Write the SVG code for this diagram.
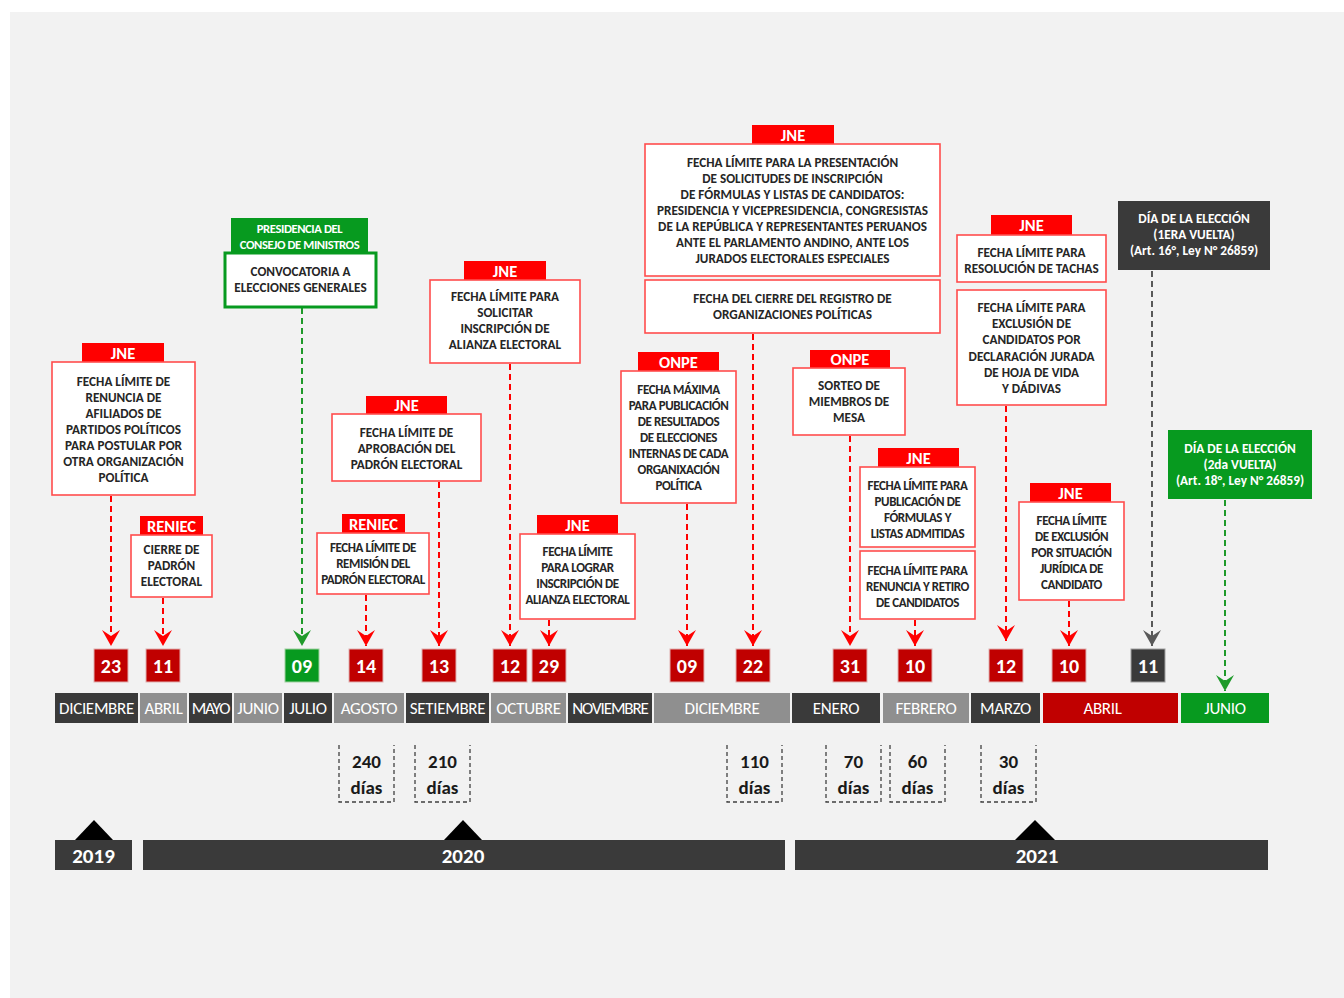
<svg xmlns="http://www.w3.org/2000/svg" width="1344" height="998" viewBox="0 0 1344 998">
<defs>
<style>
.bg{fill:#f2f2f2}
.hdr{fill:#ff0000}
.box{fill:#ffffff;stroke:#ff4d4d;stroke-width:1.6}
.gbox{fill:#ffffff;stroke:#079a1f;stroke-width:3}
.t{font-family:Carlito,Lato,"Liberation Sans",sans-serif;font-weight:bold;font-size:13.2px;fill:#262626;text-anchor:middle}
.ts{font-size:13px;letter-spacing:-0.4px}
.ht{font-family:Carlito,Lato,"Liberation Sans",sans-serif;font-weight:bold;font-size:16.5px;fill:#ffffff;text-anchor:middle}
.wt{font-family:Carlito,Lato,"Liberation Sans",sans-serif;font-weight:bold;font-size:13.3px;fill:#ffffff;text-anchor:middle}
.wts{font-size:12.6px;letter-spacing:-0.4px}
.date{fill:#c00000;stroke:#e0b0b0;stroke-width:1}
.dt{font-family:Carlito,Lato,"Liberation Sans",sans-serif;font-weight:bold;font-size:20px;fill:#ffffff;text-anchor:middle}
.mon{font-family:Carlito,Lato,"Liberation Sans",sans-serif;font-size:17px;fill:#ffffff;text-anchor:middle;letter-spacing:-0.3px}
.cond{letter-spacing:-1.1px}
.dk{fill:#3a3a3a}
.gr{fill:#8f8f8f}
.rd{fill:#c00000}
.gn{fill:#079a1f}
.cr{stroke:#ff0000;stroke-width:2;stroke-dasharray:6 4;fill:none}
.cg{stroke:#1f9a2a;stroke-width:2;stroke-dasharray:6 4;fill:none}
.ck{stroke:#595959;stroke-width:2;stroke-dasharray:6 4;fill:none}
.dd{stroke:#404040;stroke-width:1.3;stroke-dasharray:4 3;fill:none}
.days{font-family:Carlito,Lato,"Liberation Sans",sans-serif;font-weight:bold;font-size:19px;fill:#1a1a1a;text-anchor:middle}
.yr{font-family:Carlito,Lato,"Liberation Sans",sans-serif;font-weight:bold;font-size:21px;fill:#ffffff;text-anchor:middle}
</style>
<marker id="ar" viewBox="-17 -10 18 20" markerWidth="18" markerHeight="20" refX="0" refY="0" orient="auto" markerUnits="userSpaceOnUse"><path d="M0 0 L-16 -9 L-10 0 L-16 9 Z" fill="#ff0000"/></marker>
<marker id="ag" viewBox="-17 -10 18 20" markerWidth="18" markerHeight="20" refX="0" refY="0" orient="auto" markerUnits="userSpaceOnUse"><path d="M0 0 L-16 -9 L-10 0 L-16 9 Z" fill="#1f9a2a"/></marker>
<marker id="ak" viewBox="-17 -10 18 20" markerWidth="18" markerHeight="20" refX="0" refY="0" orient="auto" markerUnits="userSpaceOnUse"><path d="M0 0 L-16 -9 L-10 0 L-16 9 Z" fill="#595959"/></marker>
</defs>
<rect class="bg" x="10" y="12" width="1334" height="986"/>

<g id="connectors">
<line class="cr" x1="111" y1="496" x2="111" y2="646" marker-end="url(#ar)"/>
<line class="cr" x1="163" y1="598" x2="163" y2="646" marker-end="url(#ar)"/>
<line class="cg" x1="302" y1="308" x2="302" y2="646" marker-end="url(#ag)"/>
<line class="cr" x1="366" y1="595" x2="366" y2="646" marker-end="url(#ar)"/>
<line class="cr" x1="439" y1="482" x2="439" y2="646" marker-end="url(#ar)"/>
<line class="cr" x1="510" y1="364" x2="510" y2="646" marker-end="url(#ar)"/>
<line class="cr" x1="549" y1="620" x2="549" y2="646" marker-end="url(#ar)"/>
<line class="cr" x1="687" y1="504" x2="687" y2="646" marker-end="url(#ar)"/>
<line class="cr" x1="753" y1="334" x2="753" y2="646" marker-end="url(#ar)"/>
<line class="cr" x1="850" y1="436" x2="850" y2="646" marker-end="url(#ar)"/>
<line class="cr" x1="915" y1="620" x2="915" y2="646" marker-end="url(#ar)"/>
<line class="cr" x1="1006" y1="406" x2="1006" y2="641" marker-end="url(#ar)"/>
<line class="cr" x1="1069" y1="601" x2="1069" y2="646" marker-end="url(#ar)"/>
<line class="ck" x1="1152" y1="271" x2="1152" y2="646" marker-end="url(#ak)"/>
<line class="cg" x1="1225" y1="500" x2="1225" y2="691" marker-end="url(#ag)"/>
</g>

<g id="n-jne-renuncia">
<rect class="hdr" x="82" y="343" width="82" height="19"/>
<text class="ht" x="123" y="359">JNE</text>
<rect class="box" x="52" y="362" width="143" height="133"/>
<text class="t" x="123.5" y="386">FECHA LÍMITE DE</text>
<text class="t" x="123.5" y="402">RENUNCIA DE</text>
<text class="t" x="123.5" y="418">AFILIADOS DE</text>
<text class="t" x="123.5" y="434">PARTIDOS POLÍTICOS</text>
<text class="t" x="123.5" y="450">PARA POSTULAR POR</text>
<text class="t" x="123.5" y="466">OTRA ORGANIZACIÓN</text>
<text class="t" x="123.5" y="482">POLÍTICA</text>
</g>

<g id="n-reniec-cierre">
<rect class="hdr" x="140" y="516" width="63" height="19"/>
<text class="ht" x="171.5" y="532">RENIEC</text>
<rect class="box" x="131" y="535" width="81" height="62"/>
<text class="t" x="171.5" y="554">CIERRE DE</text>
<text class="t" x="171.5" y="570">PADRÓN</text>
<text class="t" x="171.5" y="586">ELECTORAL</text>
</g>

<g id="n-pcm">
<rect class="gn" x="231" y="218" width="137" height="34"/>
<text class="wt wts" x="299.5" y="233">PRESIDENCIA DEL</text>
<text class="wt wts" x="299.5" y="249">CONSEJO DE MINISTROS</text>
<rect class="gbox" x="225" y="253" width="151" height="54"/>
<text class="t" x="300.5" y="276">CONVOCATORIA A</text>
<text class="t" x="300.5" y="292">ELECCIONES GENERALES</text>
</g>

<g id="n-jne-aprobacion">
<rect class="hdr" x="366" y="396" width="81" height="18"/>
<text class="ht" x="406.5" y="411">JNE</text>
<rect class="box" x="332" y="414" width="149" height="67"/>
<text class="t" x="406.5" y="437">FECHA LÍMITE DE</text>
<text class="t" x="406.5" y="453">APROBACIÓN DEL</text>
<text class="t" x="406.5" y="469">PADRÓN ELECTORAL</text>
</g>

<g id="n-reniec-remision">
<rect class="hdr" x="342" y="514" width="63" height="19"/>
<text class="ht" x="373.5" y="530">RENIEC</text>
<rect class="box" x="317" y="533" width="112" height="61"/>
<text class="t ts" x="373" y="552">FECHA LÍMITE DE</text>
<text class="t ts" x="373" y="568">REMISIÓN DEL</text>
<text class="t ts" x="373" y="584">PADRÓN ELECTORAL</text>
</g>

<g id="n-jne-solicitar">
<rect class="hdr" x="464" y="261" width="82" height="19"/>
<text class="ht" x="505" y="277">JNE</text>
<rect class="box" x="430" y="280" width="150" height="83"/>
<text class="t" x="505" y="301">FECHA LÍMITE PARA</text>
<text class="t" x="505" y="317">SOLICITAR</text>
<text class="t" x="505" y="333">INSCRIPCIÓN DE</text>
<text class="t" x="505" y="349">ALIANZA ELECTORAL</text>
</g>

<g id="n-jne-lograr">
<rect class="hdr" x="537" y="515" width="81" height="19"/>
<text class="ht" x="577.5" y="531">JNE</text>
<rect class="box" x="520" y="534" width="115" height="85"/>
<text class="t ts" x="577.5" y="556">FECHA LÍMITE</text>
<text class="t ts" x="577.5" y="572">PARA LOGRAR</text>
<text class="t ts" x="577.5" y="588">INSCRIPCIÓN DE</text>
<text class="t ts" x="577.5" y="604">ALIANZA ELECTORAL</text>
</g>

<g id="n-onpe-publicacion">
<rect class="hdr" x="638" y="352" width="81" height="19"/>
<text class="ht" x="678.5" y="368">ONPE</text>
<rect class="box" x="621" y="371" width="115" height="132"/>
<text class="t ts" x="678.5" y="394">FECHA MÁXIMA</text>
<text class="t ts" x="678.5" y="410">PARA PUBLICACIÓN</text>
<text class="t ts" x="678.5" y="426">DE RESULTADOS</text>
<text class="t ts" x="678.5" y="442">DE ELECCIONES</text>
<text class="t ts" x="678.5" y="458">INTERNAS DE CADA</text>
<text class="t ts" x="678.5" y="474">ORGANIXACIÓN</text>
<text class="t ts" x="678.5" y="490">POLÍTICA</text>
</g>

<g id="n-jne-presentacion">
<rect class="hdr" x="752" y="125" width="82" height="19"/>
<text class="ht" x="793" y="141">JNE</text>
<rect class="box" x="645" y="144" width="295" height="132"/>
<text class="t" x="792.5" y="167">FECHA LÍMITE PARA LA PRESENTACIÓN</text>
<text class="t" x="792.5" y="183">DE SOLICITUDES DE INSCRIPCIÓN</text>
<text class="t" x="792.5" y="199">DE FÓRMULAS Y LISTAS DE CANDIDATOS:</text>
<text class="t" x="792.5" y="215">PRESIDENCIA Y VICEPRESIDENCIA, CONGRESISTAS</text>
<text class="t" x="792.5" y="231">DE LA REPÚBLICA Y REPRESENTANTES PERUANOS</text>
<text class="t" x="792.5" y="247">ANTE EL PARLAMENTO ANDINO, ANTE LOS</text>
<text class="t" x="792.5" y="263">JURADOS ELECTORALES ESPECIALES</text>
<rect class="box" x="645" y="280" width="295" height="53"/>
<text class="t" x="792.5" y="303">FECHA DEL CIERRE DEL REGISTRO DE</text>
<text class="t" x="792.5" y="319">ORGANIZACIONES POLÍTICAS</text>
</g>

<g id="n-onpe-sorteo">
<rect class="hdr" x="810" y="350" width="80" height="18"/>
<text class="ht" x="850" y="365">ONPE</text>
<rect class="box" x="793" y="368" width="112" height="67"/>
<text class="t" x="849" y="390">SORTEO DE</text>
<text class="t" x="849" y="406">MIEMBROS DE</text>
<text class="t" x="849" y="422">MESA</text>
</g>

<g id="n-jne-formulas">
<rect class="hdr" x="878" y="448" width="81" height="19"/>
<text class="ht" x="918.5" y="464">JNE</text>
<rect class="box" x="860" y="467" width="115" height="80"/>
<text class="t ts" x="917.5" y="490">FECHA LÍMITE PARA</text>
<text class="t ts" x="917.5" y="506">PUBLICACIÓN DE</text>
<text class="t ts" x="917.5" y="522">FÓRMULAS Y</text>
<text class="t ts" x="917.5" y="538">LISTAS ADMITIDAS</text>
<rect class="box" x="860" y="551" width="115" height="68"/>
<text class="t ts" x="917.5" y="575">FECHA LÍMITE PARA</text>
<text class="t ts" x="917.5" y="591">RENUNCIA Y RETIRO</text>
<text class="t ts" x="917.5" y="607">DE CANDIDATOS</text>
</g>

<g id="n-jne-tachas">
<rect class="hdr" x="991" y="215" width="81" height="20"/>
<text class="ht" x="1031.5" y="231">JNE</text>
<rect class="box" x="957" y="235" width="149" height="47"/>
<text class="t" x="1031.5" y="257">FECHA LÍMITE PARA</text>
<text class="t" x="1031.5" y="273">RESOLUCIÓN DE TACHAS</text>
<rect class="box" x="957" y="290" width="149" height="115"/>
<text class="t" x="1031.5" y="312">FECHA LÍMITE PARA</text>
<text class="t" x="1031.5" y="328">EXCLUSIÓN DE</text>
<text class="t" x="1031.5" y="344">CANDIDATOS POR</text>
<text class="t" x="1031.5" y="361">DECLARACIÓN JURADA</text>
<text class="t" x="1031.5" y="377">DE HOJA DE VIDA</text>
<text class="t" x="1031.5" y="393">Y DÁDIVAS</text>
</g>

<g id="n-jne-juridica">
<rect class="hdr" x="1030" y="483" width="81" height="19"/>
<text class="ht" x="1070.5" y="499">JNE</text>
<rect class="box" x="1019" y="502" width="105" height="98"/>
<text class="t ts" x="1071.5" y="525">FECHA LÍMITE</text>
<text class="t ts" x="1071.5" y="541">DE EXCLUSIÓN</text>
<text class="t ts" x="1071.5" y="557">POR SITUACIÓN</text>
<text class="t ts" x="1071.5" y="573">JURÍDICA DE</text>
<text class="t ts" x="1071.5" y="589">CANDIDATO</text>
</g>

<g id="n-eleccion-1">
<rect class="dk" x="1118" y="201" width="152" height="69"/>
<text class="wt" x="1194" y="223">DÍA DE LA ELECCIÓN</text>
<text class="wt" x="1194" y="239">(1ERA VUELTA)</text>
<text class="wt" x="1194" y="255">(Art. 16°, Ley N° 26859)</text>
</g>

<g id="n-eleccion-2">
<rect class="gn" x="1168" y="430" width="144" height="69"/>
<text class="wt" x="1240" y="453">DÍA DE LA ELECCIÓN</text>
<text class="wt" x="1240" y="469">(2da VUELTA)</text>
<text class="wt" x="1240" y="485">(Art. 18°, Ley N° 26859)</text>
</g>

<g id="dates">
<rect class="date" x="94" y="649" width="34" height="33"/><text class="dt" x="111" y="673">23</text>
<rect class="date" x="146" y="649" width="34" height="33"/><text class="dt" x="163" y="673">11</text>
<rect x="285" y="649" width="34" height="33" fill="#079a1f" stroke="#a0d0a0" stroke-width="1"/><text class="dt" x="302" y="673">09</text>
<rect class="date" x="349" y="649" width="34" height="33"/><text class="dt" x="366" y="673">14</text>
<rect class="date" x="422" y="649" width="34" height="33"/><text class="dt" x="439" y="673">13</text>
<rect class="date" x="493" y="649" width="34" height="33"/><text class="dt" x="510" y="673">12</text>
<rect class="date" x="532" y="649" width="34" height="33"/><text class="dt" x="549" y="673">29</text>
<rect class="date" x="670" y="649" width="34" height="33"/><text class="dt" x="687" y="673">09</text>
<rect class="date" x="736" y="649" width="34" height="33"/><text class="dt" x="753" y="673">22</text>
<rect class="date" x="833" y="649" width="34" height="33"/><text class="dt" x="850" y="673">31</text>
<rect class="date" x="898" y="649" width="34" height="33"/><text class="dt" x="915" y="673">10</text>
<rect class="date" x="989" y="649" width="34" height="33"/><text class="dt" x="1006" y="673">12</text>
<rect class="date" x="1052" y="649" width="34" height="33"/><text class="dt" x="1069" y="673">10</text>
<rect x="1131" y="649" width="34" height="33" fill="#3a3a3a" stroke="#a0a0a0" stroke-width="1"/><text class="dt" x="1148" y="673">11</text>
</g>

<g id="months">
<rect class="dk" x="55" y="693" width="83" height="30"/><text class="mon" x="96.5" y="714">DICIEMBRE</text>
<rect class="gr" x="140" y="693" width="47" height="30"/><text class="mon" x="163.5" y="714">ABRIL</text>
<rect class="dk" x="189" y="693" width="43" height="30"/><text class="mon cond" x="210.5" y="714">MAYO</text>
<rect class="gr" x="234" y="693" width="48" height="30"/><text class="mon" x="258" y="714">JUNIO</text>
<rect class="dk" x="284" y="693" width="48" height="30"/><text class="mon" x="308" y="714">JULIO</text>
<rect class="gr" x="334" y="693" width="70" height="30"/><text class="mon" x="369" y="714">AGOSTO</text>
<rect class="dk" x="406" y="693" width="83" height="30"/><text class="mon" x="447.5" y="714">SETIEMBRE</text>
<rect class="gr" x="491" y="693" width="75" height="30"/><text class="mon" x="528.5" y="714">OCTUBRE</text>
<rect class="dk" x="568" y="693" width="84" height="30"/><text class="mon cond" x="610" y="714">NOVIEMBRE</text>
<rect class="gr" x="654" y="693" width="136" height="30"/><text class="mon" x="722" y="714">DICIEMBRE</text>
<rect class="dk" x="792" y="693" width="88" height="30"/><text class="mon" x="836" y="714">ENERO</text>
<rect class="gr" x="883" y="693" width="86" height="30"/><text class="mon" x="926" y="714">FEBRERO</text>
<rect class="dk" x="971" y="693" width="69" height="30"/><text class="mon" x="1005.5" y="714">MARZO</text>
<rect class="rd" x="1043" y="693" width="135" height="30"/><text class="mon" x="1102.5" y="714">ABRIL</text>
<rect class="gn" x="1181" y="693" width="88" height="30"/><text class="mon" x="1225" y="714">JUNIO</text>
</g>

<g id="days">
<path class="dd" d="M339 745 V802 H394 V745"/><text class="days" x="366.5" y="768">240</text><text class="days" x="366.5" y="794">días</text>
<path class="dd" d="M415 745 V802 H470 V745"/><text class="days" x="442.5" y="768">210</text><text class="days" x="442.5" y="794">días</text>
<path class="dd" d="M727 745 V802 H782 V745"/><text class="days" x="754.5" y="768">110</text><text class="days" x="754.5" y="794">días</text>
<path class="dd" d="M826 745 V802 H881 V745"/><text class="days" x="853.5" y="768">70</text><text class="days" x="853.5" y="794">días</text>
<path class="dd" d="M890 745 V802 H945 V745"/><text class="days" x="917.5" y="768">60</text><text class="days" x="917.5" y="794">días</text>
<path class="dd" d="M981 745 V802 H1036 V745"/><text class="days" x="1008.5" y="768">30</text><text class="days" x="1008.5" y="794">días</text>
</g>

<g id="years">
<path d="M75 840 L94 820 L113 840 Z" fill="#000"/>
<path d="M444 840 L463 820 L482 840 Z" fill="#000"/>
<path d="M1015 840 L1035 820 L1055 840 Z" fill="#000"/>
<rect class="dk" x="55" y="840" width="77" height="30"/><text class="yr" x="93.5" y="863">2019</text>
<rect class="dk" x="143" y="840" width="642" height="30"/><text class="yr" x="463" y="863">2020</text>
<rect class="dk" x="795" y="840" width="473" height="30"/><text class="yr" x="1037" y="863">2021</text>
</g>
</svg>
